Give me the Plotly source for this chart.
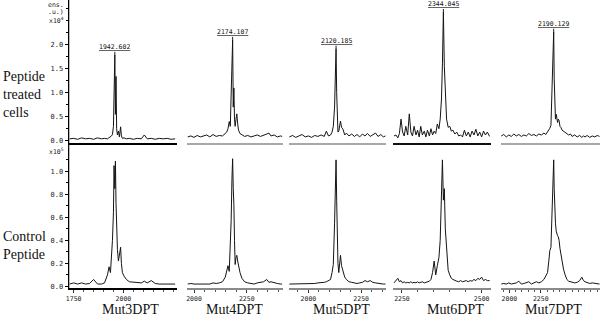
import plotly.graph_objects as go

# ---------------- data (m/z positions, intensities) ----------------
PANEL_NAMES = ["Mut3DPT", "Mut4DPT", "Mut5DPT", "Mut6DPT", "Mut7DPT"]
PEAK_LABELS = ["1942.602", "2174.107", "2120.185", "2344.045", "2190.129"]
ROW_LABELS = ["Peptide<br>treated<br>cells", "Control<br>Peptide"]
TOP_YTICKS = [0.0, 0.5, 1.0, 1.5, 2.0]
BOT_YTICKS = [0.0, 0.2, 0.4, 0.6, 0.8, 1.0]
BOTTOM_XTICKS = [[1750, 2000], [2000, 2250], [2000, 2250], [2250, 2500], [2000, 2250]]

# Mut3DPT
mz1 = [1730, 1750, 1770, 1790, 1810, 1830, 1850, 1870, 1890, 1905, 1920, 1928, 1935, 1940, 1945, 1950,
       1953, 1957, 1960, 1963, 1966, 1970, 1975, 1980, 1986, 1990, 1995, 2003, 2015, 2030, 2050, 2070,
       2090, 2105, 2120, 2140, 2160, 2180, 2200, 2220, 2240, 2260]
top1 = [.04, .05, .03, .06, .04, .05, .03, .06, .04, .05, .04, .06, .08, .10, .13, .30,
        .95, 1.79, .55, 1.34, .25, .12, .20, .08, .29, .10, .05, .06, .04, .05, .03, .05,
        .04, .12, .04, .05, .03, .05, .04, .05, .03, .04]
bot1 = [.02, .03, .02, .03, .02, .025, .06, .02, .02, .03, .10, .17, .12, .25, .40, .64,
        1.05, .85, 1.09, .72, .52, .32, .22, .30, .34, .20, .12, .09, .06, .04, .035, .03,
        .03, .045, .03, .05, .025, .02, .02, .02, .015, .02]

# Mut4DPT
mz2 = [1970, 1985, 2000, 2015, 2030, 2045, 2060, 2075, 2090, 2105, 2120, 2135, 2148, 2155, 2161, 2167,
       2172, 2176, 2180, 2183, 2186, 2189, 2192, 2195, 2199, 2203, 2207, 2211, 2218, 2227, 2240, 2255,
       2270, 2285, 2300, 2315, 2330, 2345, 2355, 2365, 2380, 2395, 2410, 2418]
top2 = [.08, .10, .07, .11, .08, .10, .12, .08, .13, .09, .11, .10, .14, .18, .25, .40,
        .30, .80, 1.6, 2.10, .70, 1.1, .45, .30, .45, .56, .35, .22, .15, .12, .09, .11,
        .08, .10, .12, .09, .11, .14, .16, .10, .12, .08, .10, .09]
bot2 = [.02, .025, .02, .02, .025, .02, .025, .02, .03, .025, .03, .04, .08, .15, .18, .13,
        .35, .57, .95, 1.11, .85, .71, .40, .19, .25, .27, .22, .17, .12, .07, .04, .03,
        .025, .02, .03, .035, .04, .06, .035, .04, .03, .025, .02, .02]

# Mut5DPT
mz3 = [1910, 1925, 1940, 1955, 1970, 1985, 2000, 2015, 2030, 2045, 2060, 2075, 2085, 2095, 2105, 2112,
       2118, 2124, 2128, 2131, 2134, 2137, 2140, 2144, 2148, 2152, 2157, 2164, 2172, 2180, 2192, 2205,
       2218, 2230, 2243, 2256, 2268, 2280, 2293, 2305, 2318, 2330, 2343, 2355, 2365]
top3 = [.08, .11, .07, .10, .13, .08, .10, .07, .11, .09, .12, .09, .20, .10, .12, .18,
        .30, .70, 1.4, 1.92, 1.0, .35, .18, .20, .30, .41, .28, .24, .12, .16, .10, .14,
        .09, .13, .08, .14, .10, .15, .09, .13, .16, .09, .13, .08, .10]
bot3 = [.02, .02, .025, .02, .02, .025, .02, .02, .025, .03, .03, .035, .04, .05, .06, .12,
        .19, .55, .90, 1.10, .75, .42, .20, .12, .20, .27, .18, .12, .08, .06, .04, .035,
        .03, .025, .03, .035, .05, .04, .05, .035, .03, .025, .02, .02, .02]

# Mut6DPT
mz4 = [2225, 2231, 2237, 2242, 2247, 2252, 2257, 2262, 2268, 2273, 2278, 2283, 2288, 2294, 2299, 2304,
       2309, 2314, 2320, 2325, 2330, 2336, 2341, 2346, 2351, 2356, 2361, 2366, 2370, 2374, 2377, 2380,
       2383, 2386, 2390, 2395, 2400, 2405, 2410, 2416, 2422, 2428, 2434, 2440, 2446, 2452, 2458, 2464,
       2470, 2476, 2482, 2488, 2494, 2500, 2506, 2512, 2518, 2525]
top4 = [.10, .12, .06, .15, .45, .18, .10, .30, .12, .56, .18, .10, .30, .12, .22, .08,
        .30, .12, .20, .08, .22, .10, .25, .12, .20, .15, .35, .25, .45, .87, 1.6, 2.68,
        1.55, .90, .45, .28, .30, .20, .22, .14, .18, .10, .12, .08, .22, .10, .18, .08,
        .20, .12, .24, .10, .18, .08, .20, .12, .18, .09]
bot4 = [.03, .05, .07, .04, .05, .03, .04, .03, .035, .03, .04, .03, .035, .03, .04, .03,
        .035, .04, .03, .035, .04, .045, .06, .12, .22, .10, .18, .25, .40, .90, 1.10, .75,
        .85, .50, .30, .14, .10, .07, .06, .05, .045, .04, .05, .04, .045, .05, .04, .05,
        .045, .06, .05, .07, .06, .08, .05, .06, .05, .05]

# Mut7DPT
mz5 = [1935, 1955, 1975, 1995, 2015, 2035, 2055, 2075, 2095, 2115, 2135, 2155, 2175, 2195, 2215, 2235,
       2255, 2275, 2290, 2304, 2314, 2322, 2331, 2338, 2344, 2349, 2353, 2357, 2362, 2367, 2373, 2378,
       2384, 2390, 2396, 2403, 2410, 2420, 2431, 2444, 2458, 2472, 2486, 2500, 2520, 2540, 2560, 2577,
       2590, 2603, 2620, 2640, 2660, 2680, 2700, 2718]
top5 = [.10, .13, .08, .12, .09, .14, .10, .13, .09, .12, .10, .15, .11, .13, .10, .14,
        .12, .16, .13, .18, .22, .26, .32, .90, 1.5, 2.0, 2.27, 1.3, .70, .45, .55, .40,
        .38, .45, .42, .30, .28, .22, .20, .18, .15, .12, .14, .09, .12, .08, .11, .07,
        .10, .08, .11, .07, .10, .08, .11, .09]
bot5 = [.02, .025, .02, .03, .02, .025, .03, .045, .02, .025, .03, .04, .02, .03, .04, .03,
        .04, .06, .09, .12, .22, .31, .34, .55, .71, .95, 1.10, .85, .62, .55, .48, .45,
        .44, .43, .40, .33, .28, .20, .15, .10, .06, .045, .04, .035, .03, .035, .05, .08,
        .05, .04, .03, .025, .03, .025, .02, .02]

MZ = [mz1, mz2, mz3, mz4, mz5]
TOP = [top1, top2, top3, top4, top5]
BOT = [bot1, bot2, bot3, bot4, bot5]

# ---------------- layout helpers ----------------
W, H = 600, 325
def fx(p): return p / W
def fy(p): return 1 - p / H

COLS_PX = [(66, 175), (185, 281), (287, 385), (392, 490), (500, 600)]
XRANGES = [[1725, 2270], [1967, 2420], [1906, 2368], [2222, 2528], [1929, 2722]]
TOP_LINE = ["#000", "#a8a8a8", "#a8a8a8", "#111", "#a8a8a8"]
BOT_LINE = ["#000", "#8a8a8a", "#8a8a8a", "#8a8a8a", "#8a8a8a"]
TOP_DOM = [fy(144), fy(0)]
BOT_DOM = [fy(291), fy(150)]
TOP_YR = [-0.04, 2.93]
BOT_YR = [-0.017, 1.198]
NAME_X = [128, 233, 340, 455, 553]

MONO = "DejaVu Sans Mono"
SERIF = "Liberation Serif"

fig = go.Figure()
layout = dict(width=W, height=H, margin=dict(l=0, r=0, t=0, b=0),
              paper_bgcolor="white", plot_bgcolor="white", showlegend=False)
annotations = []
shapes = []

for c in range(5):
    t, b = 2 * c + 1, 2 * c + 2
    xt = "x" if t == 1 else f"x{t}"
    yt = "y" if t == 1 else f"y{t}"
    xb, yb = f"x{b}", f"y{b}"
    dom = [fx(COLS_PX[c][0]), fx(COLS_PX[c][1])]

    fig.add_trace(go.Scatter(x=MZ[c], y=TOP[c], mode="lines", xaxis=xt, yaxis=yt,
                             line=dict(color="#141414", width=1), hoverinfo="skip"))
    fig.add_trace(go.Scatter(x=MZ[c], y=BOT[c], mode="lines", xaxis=xb, yaxis=yb,
                             line=dict(color="#141414", width=1), hoverinfo="skip"))

    layout["xaxis" if t == 1 else f"xaxis{t}"] = dict(
        domain=dom, anchor=yt, range=XRANGES[c], showgrid=False, zeroline=False,
        showline=True, linecolor=TOP_LINE[c], linewidth=2 if c in (0, 3) else 1.5,
        showticklabels=False, ticks="")
    layout[f"xaxis{b}"] = dict(
        domain=dom, anchor=yb, range=XRANGES[c], showgrid=False, zeroline=False,
        showline=True, linecolor=BOT_LINE[c], linewidth=1.5,
        tickmode="array", tickvals=BOTTOM_XTICKS[c], ticks="outside", ticklen=3,
        tickcolor="#333", tickwidth=1,
        minor=dict(dtick=50, ticks="outside", ticklen=2, tickcolor="#555"),
        tickfont=dict(family=MONO, size=6.5, color="#222"))

    ytop = dict(domain=TOP_DOM, anchor=xt, range=TOP_YR, showgrid=False, zeroline=False)
    ybot = dict(domain=BOT_DOM, anchor=xb, range=BOT_YR, showgrid=False, zeroline=False)
    if c == 0:
        ytop.update(showline=True, linecolor="#000", linewidth=1.2,
                    tickmode="array", tickvals=TOP_YTICKS,
                    ticktext=[f"{v:.1f}" for v in TOP_YTICKS],
                    ticks="outside", ticklen=3, tickcolor="#000",
                    minor=dict(dtick=0.25, ticks="outside", ticklen=2, tickcolor="#000"),
                    tickfont=dict(family=MONO, size=7, color="#222"))
        ybot.update(showline=True, linecolor="#000", linewidth=1.2,
                    tickmode="array", tickvals=BOT_YTICKS,
                    ticktext=[f"{v:.1f}" for v in BOT_YTICKS],
                    ticks="outside", ticklen=3, tickcolor="#000",
                    minor=dict(dtick=0.1, ticks="outside", ticklen=2, tickcolor="#000"),
                    tickfont=dict(family=MONO, size=7, color="#222"))
    else:
        ytop.update(visible=False)
        ybot.update(visible=False)
    layout["yaxis" if t == 1 else f"yaxis{t}"] = ytop
    layout[f"yaxis{b}"] = ybot

    # peak label with dotted marker line
    i = max(range(len(TOP[c])), key=lambda k: TOP[c][k])
    pxv, pyv = MZ[c][i], TOP[c][i]
    annotations.append(dict(x=pxv, y=pyv, xref=xt, yref=yt, text=f"<u>{PEAK_LABELS[c]}</u>",
                            showarrow=False, xanchor="center", yanchor="bottom", yshift=2,
                            font=dict(family=MONO, size=6.5, color="#111")))
    shapes.append(dict(type="line", xref=xt, yref=yt, x0=pxv, x1=pxv,
                       ysizemode="pixel", yanchor=pyv, y0=0, y1=5,
                       line=dict(color="#222", width=1, dash="dot")))

    # panel name
    annotations.append(dict(x=fx(NAME_X[c]), y=fy(312), xref="paper", yref="paper",
                            text=PANEL_NAMES[c], showarrow=False,
                            xanchor="center", yanchor="middle",
                            font=dict(family=SERIF, size=14, color="#111")))

# continuous left axis line across both rows
shapes.append(dict(type="line", xref="paper", yref="paper", x0=fx(66), x1=fx(66),
                   y0=fy(291), y1=fy(0), line=dict(color="#000", width=1.2)))

# intensity unit labels
unit_font = dict(family=MONO, size=6.5, color="#222")
annotations += [
    dict(x=fx(63), y=fy(5), xref="paper", yref="paper", text="ens.", showarrow=False,
         xanchor="right", yanchor="middle", font=unit_font),
    dict(x=fx(63), y=fy(12), xref="paper", yref="paper", text=".u.)", showarrow=False,
         xanchor="right", yanchor="middle", font=unit_font),
    dict(x=fx(63), y=fy(21), xref="paper", yref="paper", text="x10<sup>4</sup>", showarrow=False,
         xanchor="right", yanchor="middle", font=unit_font),
    dict(x=fx(63), y=fy(153), xref="paper", yref="paper", text="x10<sup>5</sup>", showarrow=False,
         xanchor="right", yanchor="middle", font=unit_font),
]

# row labels
annotations.append(dict(x=fx(-2), y=fy(95), xref="paper", yref="paper", text=ROW_LABELS[0],
                        showarrow=False, xanchor="left", yanchor="middle", align="left",
                        font=dict(family=SERIF, size=14, color="#111")))
annotations.append(dict(x=fx(-2), y=fy(248), xref="paper", yref="paper", text=ROW_LABELS[1],
                        showarrow=False, xanchor="left", yanchor="middle", align="left",
                        font=dict(family=SERIF, size=14, color="#111")))

layout["annotations"] = annotations
layout["shapes"] = shapes
fig.update_layout(**layout)
fig.write_html("out.html", config={"displayModeBar": False},
               post_script="document.body.style.margin='0px';")
